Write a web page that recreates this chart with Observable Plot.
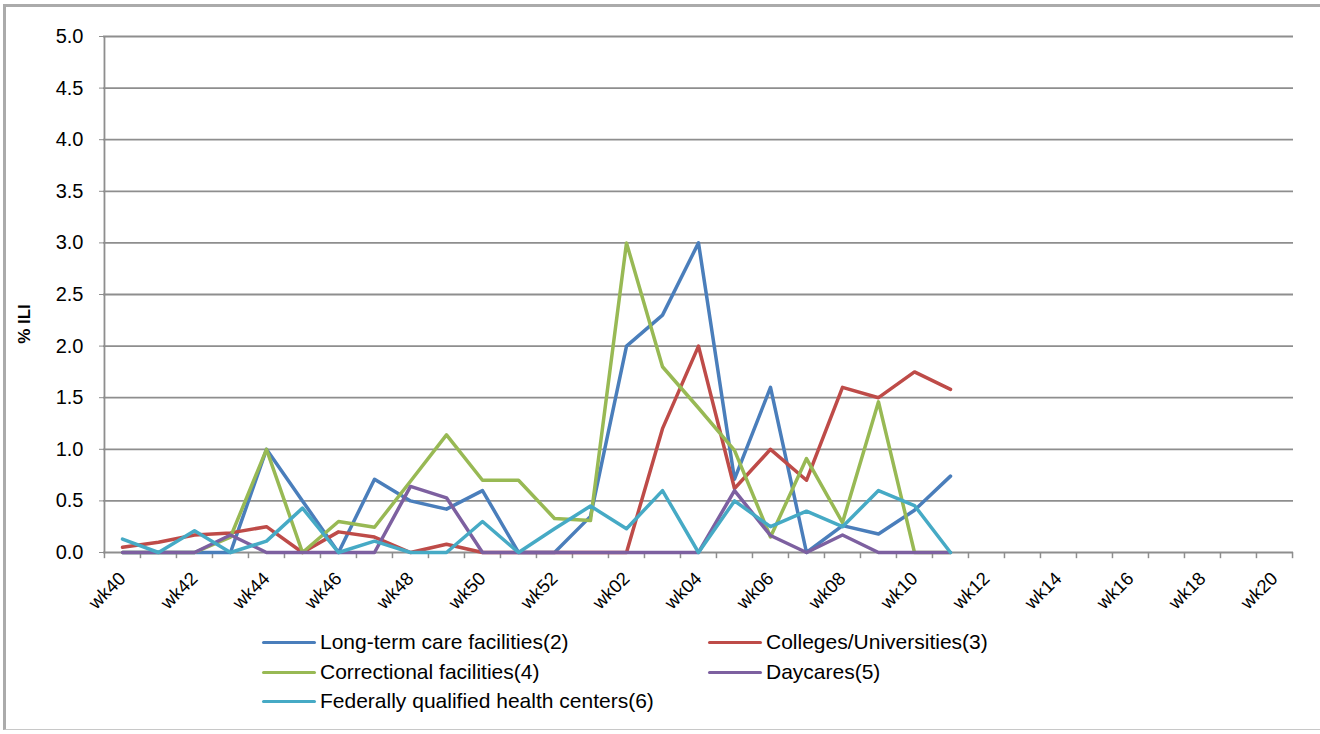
<!DOCTYPE html>
<html>
<head>
<meta charset="utf-8">
<script src="https://cdn.jsdelivr.net/npm/d3@7"></script>
<script src="https://cdn.jsdelivr.net/npm/@observablehq/plot@0.6"></script>
<style>
  html, body { margin: 0; padding: 0; background: #fff; }
  #wrap { position: relative; width: 1320px; height: 734px; overflow: hidden; font-family: "Liberation Sans", Arial, sans-serif; }
  #frame { position: absolute; left: 3px; top: 4px; width: 1330px; height: 726px; border-left: 3px solid #ababab; border-top: 3px solid #ababab; border-bottom: 1px solid #c8c8c8; box-sizing: border-box; }
  #chart { position: absolute; left: 0; top: 0; }
  #ylabel { position: absolute; left: 25px; top: 324px; transform: translate(-50%, -50%) rotate(-90deg); font-weight: bold; font-size: 17px; color: #000; white-space: nowrap; }
  .leg { position: absolute; font-size: 21px; color: #000; white-space: nowrap; line-height: 1; }
  .leg .sw { position: absolute; width: 54px; height: 3.5px; border-radius: 2px; top: 0; }
  .leg span.t { position: absolute; top: -10px; }
</style>
</head>
<body>
<div id="wrap">
  <div id="frame"></div>
  <div id="chart"></div>
  <div id="ylabel">% ILI</div>
  <div id="legend"></div>
</div>
<script>
// Categories (season weeks)
const weeks = ["wk40","wk41","wk42","wk43","wk44","wk45","wk46","wk47","wk48","wk49","wk50","wk51","wk52",
  "wk01","wk02","wk03","wk04","wk05","wk06","wk07","wk08","wk09","wk10","wk11","wk12","wk13","wk14","wk15",
  "wk16","wk17","wk18","wk19","wk20"];
const tickLabels = ["wk40","wk42","wk44","wk46","wk48","wk50","wk52","wk02","wk04","wk06","wk08","wk10","wk12","wk14","wk16","wk18","wk20"];
const yTicks = [0, 0.5, 1.0, 1.5, 2.0, 2.5, 3.0, 3.5, 4.0, 4.5, 5.0];

// Series values (wk40 .. wk11)
const longTermCare = [0, 0, 0, 0, 1.0, 0.5, 0, 0.71, 0.5, 0.42, 0.6, 0, 0, 0.35, 2.0, 2.3, 3.0, 0.71, 1.6, 0, 0.26, 0.18, 0.41, 0.74];
const colleges     = [0.05, 0.1, 0.17, 0.19, 0.25, 0, 0.2, 0.15, 0, 0.08, 0, 0, 0, 0, 0, 1.2, 2.0, 0.62, 1.0, 0.7, 1.6, 1.5, 1.75, 1.58];
const correctional = [0, 0, 0, 0.15, 1.0, 0, 0.3, 0.245, 0.69, 1.14, 0.7, 0.7, 0.33, 0.31, 3.0, 1.8, 1.4, 0.99, 0.15, 0.91, 0.29, 1.46, 0, 0];
const daycares     = [0, 0, 0, 0.17, 0, 0, 0, 0, 0.64, 0.53, 0, 0, 0, 0, 0, 0, 0, 0.6, 0.165, 0, 0.17, 0, 0, 0];
const fqhc         = [0.13, 0, 0.21, 0, 0.11, 0.43, 0, 0.11, 0, 0, 0.3, 0, 0.23, 0.45, 0.23, 0.6, 0, 0.5, 0.25, 0.4, 0.25, 0.6, 0.455, 0];

const seriesNames = ["Long-term care facilities(2)", "Colleges/Universities(3)", "Correctional facilities(4)", "Daycares(5)", "Federally qualified health centers(6)"];
const seriesValues = [longTermCare, colleges, correctional, daycares, fqhc];
const seriesColors = ["#4A7EBB", "#BE4B48", "#98B954", "#7D60A0", "#46AAC5"];

const rows = seriesNames.flatMap((name, s) => seriesValues[s].map((v, i) => ({series: name, week: weeks[i], value: v})));

const W = 1320, H = 625;
const mL = 103, mR = 27, mT = 36, mB = H - 552;
const step = (W - mL - mR) / weeks.length;
const gridColor = "#8e8e8e";

const chart = Plot.plot({
  width: W, height: H,
  marginLeft: mL, marginRight: mR, marginTop: mT, marginBottom: mB,
  style: {fontFamily: "'Liberation Sans', Arial, sans-serif", background: "transparent", color: "#000"},
  x: {type: "point", domain: weeks, padding: 0.5, label: null, axis: null},
  y: {domain: [0, 5], label: null},
  color: {domain: seriesNames, range: seriesColors},
  marks: [
    Plot.ruleY(yTicks, {stroke: gridColor, strokeWidth: 1.8}),
    Plot.ruleX([weeks[0]], {y1: 0, y2: 5, dx: -step / 2, stroke: gridColor, strokeWidth: 1.8}),
    Plot.ruleX(weeks, {y1: 0, y2: -0.06, dx: -step / 2, stroke: gridColor, strokeWidth: 1.5}),
    Plot.ruleX([weeks[weeks.length - 1]], {y1: 0, y2: -0.06, dx: step / 2, stroke: gridColor, strokeWidth: 1.5}),
    Plot.axisY({ticks: yTicks, tickFormat: d3.format(".1f"), tickSize: 4, tickPadding: 16, fontSize: 20, stroke: gridColor, label: null}),
    Plot.text(tickLabels, {x: d => d, y: 0, text: d => d, rotate: -45, textAnchor: "end", lineAnchor: "middle", dy: 23, fontSize: 18.5, fill: "#000"}),
    Plot.line(rows, {x: "week", y: "value", z: "series", stroke: "series", strokeWidth: 3.5, strokeLinejoin: "round", strokeLinecap: "round"})
  ]
});
document.getElementById("chart").appendChild(chart);

// Legend (two columns)
const legPos = [[262, 642], [708, 642], [262, 672], [708, 672], [262, 701]];
const legend = document.getElementById("legend");
seriesNames.forEach((name, i) => {
  const d = document.createElement("div");
  d.className = "leg";
  d.style.left = legPos[i][0] + "px";
  d.style.top = (legPos[i][1] - 1.5) + "px";
  d.innerHTML = `<div class="sw" style="background:${seriesColors[i]}"></div><span class="t" style="left:58px">${name}</span>`;
  legend.appendChild(d);
});
</script>
</body>
</html>
